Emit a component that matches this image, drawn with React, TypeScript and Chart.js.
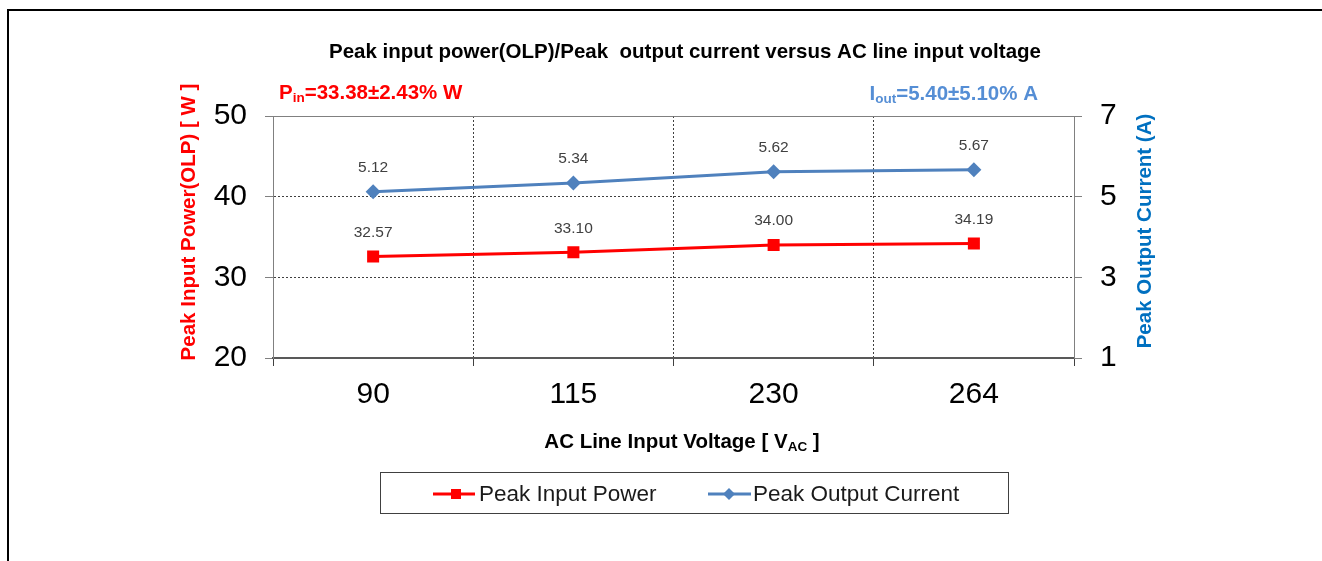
import React, { useEffect, useRef } from 'react';
import { Chart, registerables } from 'chart.js';

Chart.register(...registerables);

const categories = ['90', '115', '230', '264'];
const peakInputPower = [32.57, 33.1, 34.0, 34.19];
const peakOutputCurrent = [5.12, 5.34, 5.62, 5.67];
const leftTicks = [20, 30, 40, 50];
const rightTicks = [1, 3, 5, 7];

const FONT = '"Liberation Sans", Arial, Helvetica, sans-serif';
const RED = '#FF0000';
const BLUE = '#4F81BD';
const BIG = 20.5;
const SUB = 13.5;

type Part = { text: string; size: number; dy: number };

function drawRich(ctx: CanvasRenderingContext2D, parts: Part[], x: number, y: number, align: string, color: string, bold = true) {
  const widths: number[] = [];
  let total = 0;
  for (const p of parts) {
    ctx.font = `${bold ? 'bold ' : ''}${p.size}px ${FONT}`;
    const w = ctx.measureText(p.text).width;
    widths.push(w);
    total += w;
  }
  let cx = align === 'center' ? x - total / 2 : align === 'right' ? x - total : x;
  ctx.textAlign = 'left';
  ctx.textBaseline = 'alphabetic';
  ctx.fillStyle = color;
  parts.forEach((p, i) => {
    ctx.font = `${bold ? 'bold ' : ''}${p.size}px ${FONT}`;
    ctx.fillText(p.text, cx, y + p.dy);
    cx += widths[i];
  });
}

const decorPlugin = {
  id: 'decor',
  beforeDatasetsDraw(chart: any) {
    const { ctx, chartArea } = chart;
    ctx.save();
    ctx.strokeStyle = '#808080';
    ctx.lineWidth = 1;
    ctx.beginPath();
    ctx.moveTo(chartArea.left, chartArea.top + 0.5);
    ctx.lineTo(chartArea.right, chartArea.top + 0.5);
    ctx.stroke();
    ctx.restore();
  },
  afterDatasetsDraw(chart: any) {
    const { ctx } = chart;
    ctx.save();
    ctx.font = `15.5px ${FONT}`;
    ctx.fillStyle = '#404040';
    ctx.textAlign = 'center';
    ctx.textBaseline = 'middle';
    chart.data.datasets.forEach((ds: any, di: number) => {
      const meta = chart.getDatasetMeta(di);
      meta.data.forEach((pt: any, i: number) => {
        ctx.fillText(Number(ds.data[i]).toFixed(2), pt.x, pt.y - 24);
      });
    });
    ctx.restore();
  },
  afterDraw(chart: any) {
    const { ctx } = chart;
    ctx.save();
    // outer frame
    ctx.fillStyle = '#000';
    ctx.fillRect(7, 9, 1315, 2);
    ctx.fillRect(7, 9, 2, 552);

    // title
    drawRich(ctx, [{ text: 'Peak input power(OLP)/Peak  output current versus AC line input voltage', size: BIG, dy: 0 }], 685, 58, 'center', '#000');

    // annotations
    drawRich(ctx, [
      { text: 'P', size: BIG, dy: 0 },
      { text: 'in', size: SUB, dy: 3 },
      { text: '=33.38±2.43% W', size: BIG, dy: 0 },
    ], 279, 99, 'left', RED);
    drawRich(ctx, [
      { text: 'I', size: BIG, dy: 0 },
      { text: 'out', size: SUB, dy: 3 },
      { text: '=5.40±5.10% A', size: BIG, dy: 0 },
    ], 1038, 100, 'right', '#558ED5');

    // x axis title
    drawRich(ctx, [
      { text: 'AC Line Input Voltage [ V', size: BIG, dy: 0 },
      { text: 'AC', size: SUB, dy: 3 },
      { text: ' ]', size: BIG, dy: 0 },
    ], 682, 448, 'center', '#000');

    // left axis title
    ctx.save();
    ctx.translate(195, 222);
    ctx.rotate(-Math.PI / 2);
    drawRich(ctx, [{ text: 'Peak Input Power(OLP) [ W ]', size: BIG, dy: 0 }], 0, 0, 'center', RED);
    ctx.restore();

    // right axis title
    ctx.save();
    ctx.translate(1151, 231);
    ctx.rotate(-Math.PI / 2);
    drawRich(ctx, [{ text: 'Peak Output Current (A)', size: BIG, dy: 0 }], 0, 0, 'center', '#0070C0');
    ctx.restore();

    // legend
    ctx.strokeStyle = '#404040';
    ctx.lineWidth = 1;
    ctx.strokeRect(380.5, 472.5, 628, 41);

    const ly = 494;
    ctx.lineWidth = 3;
    ctx.strokeStyle = RED;
    ctx.beginPath();
    ctx.moveTo(433, ly);
    ctx.lineTo(475, ly);
    ctx.stroke();
    ctx.fillStyle = RED;
    ctx.fillRect(451, ly - 5, 10, 10);

    ctx.strokeStyle = BLUE;
    ctx.beginPath();
    ctx.moveTo(708, ly);
    ctx.lineTo(751, ly);
    ctx.stroke();
    ctx.fillStyle = BLUE;
    ctx.beginPath();
    ctx.moveTo(729, ly - 6);
    ctx.lineTo(735, ly);
    ctx.lineTo(729, ly + 6);
    ctx.lineTo(723, ly);
    ctx.closePath();
    ctx.fill();

    drawRich(ctx, [{ text: 'Peak Input Power', size: 22.5, dy: 0 }], 479, 501, 'left', '#1a1a1a', false);
    drawRich(ctx, [{ text: 'Peak Output Current', size: 22.5, dy: 0 }], 753, 501, 'left', '#1a1a1a', false);

    ctx.restore();
  },
};

export default function App() {
  const canvasRef = useRef<HTMLCanvasElement | null>(null);

  useEffect(() => {
    if (!canvasRef.current) return;
    const chart = new Chart(canvasRef.current, {
      type: 'line',
      data: {
        labels: categories,
        datasets: [
          {
            label: 'Peak Input Power',
            data: peakInputPower,
            yAxisID: 'y',
            borderColor: RED,
            backgroundColor: RED,
            borderWidth: 3,
            pointStyle: 'rect',
            pointRadius: 8.5,
            pointBorderWidth: 0,
            tension: 0,
          },
          {
            label: 'Peak Output Current',
            data: peakOutputCurrent,
            yAxisID: 'y1',
            borderColor: BLUE,
            backgroundColor: BLUE,
            borderWidth: 3,
            pointStyle: 'rectRot',
            pointRadius: 7.5,
            pointBorderWidth: 0,
            tension: 0,
          },
        ],
      },
      options: {
        animation: false,
        responsive: true,
        maintainAspectRatio: false,
        layout: { padding: { top: 116, left: 0, right: 0, bottom: 0 } },
        plugins: {
          legend: { display: false },
          title: { display: false },
          tooltip: { enabled: false },
        },
        scales: {
          x: {
            type: 'category',
            offset: true,
            grid: {
              offset: true,
              color: '#404040',
              lineWidth: 1,
              tickLength: 8,
              tickColor: '#404040',
            },
            border: { display: true, color: '#595959', width: 2, dash: [2, 2] },
            ticks: {
              color: '#000',
              font: { family: FONT, size: 30 },
              padding: 11,
              maxRotation: 0,
            },
            afterFit: (scale: any) => {
              scale.height = 561 - 358;
            },
          },
          y: {
            position: 'left',
            min: 20,
            max: 50,
            afterBuildTicks: (scale: any) => {
              scale.ticks = leftTicks.map((v) => ({ value: v }));
            },
            grid: {
              color: '#404040',
              lineWidth: 1,
              tickLength: 8,
              tickColor: '#808080',
            },
            border: { display: true, color: '#808080', width: 1, dash: [2, 2] },
            ticks: {
              color: '#000',
              font: { family: FONT, size: 30 },
              padding: 18,
            },
            afterFit: (scale: any) => {
              scale.width = 273;
            },
          },
          y1: {
            position: 'right',
            min: 1,
            max: 7,
            afterBuildTicks: (scale: any) => {
              scale.ticks = rightTicks.map((v) => ({ value: v }));
            },
            grid: {
              drawOnChartArea: false,
              tickLength: 8,
              tickColor: '#808080',
            },
            border: { display: true, color: '#808080', width: 1 },
            ticks: {
              color: '#000',
              font: { family: FONT, size: 30 },
              padding: 18,
            },
            afterFit: (scale: any) => {
              scale.width = 1322 - 1074;
            },
          },
        },
      } as any,
      plugins: [decorPlugin],
    });
    return () => chart.destroy();
  }, []);

  return (
    <div style={{ position: 'absolute', left: 0, top: 0, width: 1322, height: 561, background: '#fff' }}>
      <canvas ref={canvasRef} />
    </div>
  );
}
